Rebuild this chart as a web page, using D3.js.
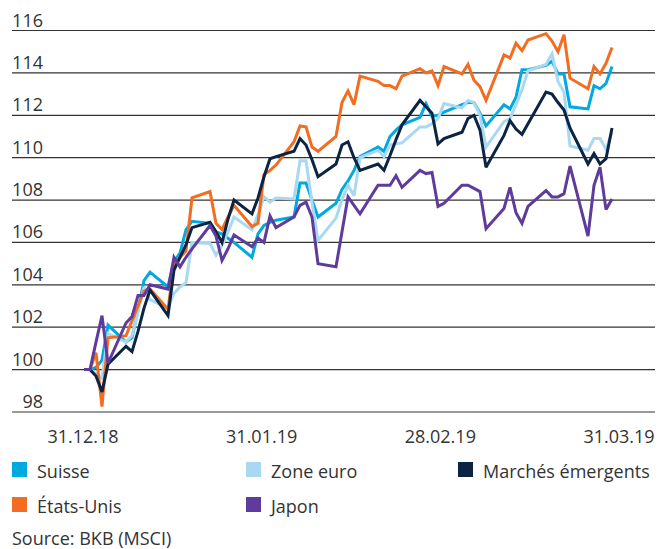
<!DOCTYPE html>
<html><head><meta charset="utf-8">
<script src="https://cdn.jsdelivr.net/npm/d3@7"></script>
<style>
body{margin:0;background:#fff;}
text{font-family:"Open Sans",sans-serif;fill:#333;}
</style>
</head><body>
<svg id="chart" width="668" height="549"></svg>
<script>
const dates = [
"2018-12-31","2019-01-01","2019-01-02","2019-01-03","2019-01-04",
"2019-01-07","2019-01-08","2019-01-09","2019-01-10","2019-01-11",
"2019-01-14","2019-01-15","2019-01-16","2019-01-17","2019-01-18",
"2019-01-21","2019-01-22","2019-01-23","2019-01-24","2019-01-25",
"2019-01-28","2019-01-29","2019-01-30","2019-01-31","2019-02-01",
"2019-02-04","2019-02-05","2019-02-06","2019-02-07","2019-02-08",
"2019-02-11","2019-02-12","2019-02-13","2019-02-14","2019-02-15",
"2019-02-18","2019-02-19","2019-02-20","2019-02-21","2019-02-22",
"2019-02-25","2019-02-26","2019-02-27","2019-02-28","2019-03-01",
"2019-03-04","2019-03-05","2019-03-06","2019-03-07","2019-03-08",
"2019-03-11","2019-03-12","2019-03-13","2019-03-14","2019-03-15",
"2019-03-18","2019-03-19","2019-03-20","2019-03-21","2019-03-22",
"2019-03-25","2019-03-26","2019-03-27","2019-03-28","2019-03-29"
];

const suisse = [
100.0, 100.0, 100.1, 100.45, 102.1,
101.3, 101.5, 102.8, 104.2, 104.6,
103.9, 105.1, 105.5, 106.6, 107.0,
106.9, 106.5, 106.4, 106.2, 106.0,
105.3, 106.4, 106.8, 106.95, 107.05,
107.2, 108.8, 108.8, 108.0, 107.2,
107.85, 108.5, 108.9, 109.4, 110.05,
110.5, 110.3, 111.0, 111.3, 111.55,
111.9, 112.55, 111.95, 112.0, 112.15,
112.5, 112.6, 112.6, 112.1, 111.5,
112.5, 112.3, 112.85, 114.15, 114.15,
114.35, 114.55, 113.95, 113.95, 112.4,
112.3, 113.4, 113.25, 113.5, 114.3
];
const zoneEuro = [
100.0, 100.0, 99.8, 99.6, 101.7,
101.3, 101.6, 102.7, 103.9, 103.3,
102.9, 103.6, 103.9, 104.1, 106.0,
105.95, 105.4, 105.85, 106.5, 107.2,
106.6, 107.3, 108.15, 107.9, 108.1,
108.05, 109.85, 109.85, 107.9, 106.1,
107.15, 108.0, 108.7, 108.2, 110.0,
110.35, 110.05, 110.6, 110.65, 110.7,
111.45, 111.45, 111.6, 111.85, 112.55,
112.35, 112.7, 112.6, 112.0, 110.5,
111.7, 111.85, 112.5, 113.2, 114.1,
114.4, 114.9, 113.6, 113.1, 110.55,
110.35, 110.9, 110.9, 110.4, 111.2
];
const emergents = [
100.0, 100.0, 99.7, 98.95, 100.25,
101.1, 100.85, 101.8, 102.9, 103.75,
102.55, 104.7, 105.3, 105.9, 106.7,
106.95, 106.5, 106.0, 107.1, 108.0,
107.35, 108.1, 109.1, 109.95, 110.05,
110.3, 110.9, 110.6, 109.9, 109.1,
109.7, 110.6, 110.75, 110.0, 109.4,
109.7, 109.4, 110.1, 110.85, 111.55,
112.7, 112.4, 112.1, 110.65, 110.9,
111.2, 111.85, 112.0, 111.3, 109.55,
111.05, 111.75, 111.35, 111.1, 111.6,
113.1, 113.0, 112.6, 112.25, 111.4,
109.7, 110.2, 109.7, 109.95, 111.4
];
const etatsUnis = [
100.0, 100.0, 100.8, 98.25, 101.5,
101.6, 102.3, 103.0, 103.7, 103.8,
102.85, 105.0, 105.3, 105.6, 108.1,
108.4, 106.9, 106.6, 107.2, 107.75,
106.75, 106.9, 109.2, 109.4, 109.65,
110.75, 111.5, 111.45, 110.5, 110.3,
111.0, 112.6, 113.15, 112.5, 113.85,
113.6, 113.4, 113.4, 113.25, 113.85,
114.2, 114.0, 114.1, 113.4, 114.3,
113.95, 114.4, 113.65, 113.35, 112.7,
114.85, 114.7, 115.4, 115.05, 115.55,
115.85, 115.5, 115.0, 115.8, 113.75,
113.25, 114.3, 113.95, 114.45, 115.2
];
const japon = [
100.0, 100.0, 101.3, 102.55, 100.3,
102.2, 102.5, 103.5, 103.5, 104.0,
103.8, 105.3, 104.85, 105.3, 105.7,
106.8, 106.3, 105.15, 105.7, 106.35,
105.8, 106.2, 106.0, 107.25, 106.7,
107.2, 107.75, 107.9, 107.2, 105.0,
104.85, 106.5, 108.15, 107.75, 107.35,
108.7, 108.7, 108.7, 109.15, 108.6,
109.4, 109.25, 109.3, 107.7, 107.85,
108.7, 108.7, 108.55, 108.4, 106.65,
107.6, 108.6, 107.4, 106.9, 107.7,
108.45, 108.15, 108.15, 108.3, 109.6,
106.3, 108.7, 109.55, 107.55, 108.05
];

const yTicks = [98, 100, 102, 104, 106, 108, 110, 112, 114, 116];
const xTickLabels = ["31.12.18", "31.01.19", "28.02.19", "31.03.19"];

const seriesNames = ["Suisse", "Zone euro", "Marchés émergents", "États-Unis", "Japon"];
const seriesColors = ["#00a9e0", "#a8d8f2", "#0b2443", "#f26d22", "#5e3b9c"];
const seriesValues = [suisse, zoneEuro, emergents, etatsUnis, japon];
const drawOrder = [0, 1, 3, 2, 4];

const svg = d3.select("#chart");
const parse = d3.utcParse("%Y-%m-%d");
const xDates = dates.map(parse);

const x = d3.scaleUtc().domain([xDates[0], xDates[xDates.length - 1]]).range([84, 612]);
const y = d3.scaleLinear().domain([98, 116]).range([412, 30.5]);

// grid lines
svg.append("g").selectAll("line").data(yTicks).join("line")
  .attr("x1", 12).attr("x2", 655)
  .attr("y1", d => y(d)).attr("y2", d => y(d))
  .attr("stroke", "#333").attr("stroke-width", 1.2);

// y labels
svg.append("g").selectAll("text").data(yTicks).join("text")
  .attr("x", 43).attr("y", d => y(d) - 4)
  .attr("text-anchor", "end")
  .attr("font-size", 18)
  .text(d => d);

// x labels
const xl = d3.scalePoint().domain(xTickLabels).range([83, 619]);
svg.append("g").selectAll("text").data(xTickLabels).join("text")
  .attr("x", d => xl(d)).attr("y", 443)
  .attr("text-anchor", "middle")
  .attr("font-size", 18)
  .text(d => d);

// lines
const line = d3.line().x((d, i) => x(xDates[i])).y(d => y(d)).curve(d3.curveLinear);
svg.append("g").selectAll("path").data(drawOrder).join("path")
  .attr("d", k => line(seriesValues[k]))
  .attr("fill", "none")
  .attr("stroke", k => seriesColors[k])
  .attr("stroke-width", 3)
  .attr("stroke-linejoin", "miter")
  .attr("stroke-miterlimit", 3);

// legend
const legendPos = [[12, 462], [246, 462], [458, 462], [12, 497], [246, 497]];
const lg = svg.append("g").selectAll("g").data(seriesNames).join("g")
  .attr("transform", (d, i) => `translate(${legendPos[i][0]},${legendPos[i][1]})`);
lg.append("rect").attr("width", 15).attr("height", 15).attr("fill", (d, i) => seriesColors[i]);
lg.append("text").attr("x", 25).attr("y", 15.5).attr("font-size", 18).text(d => d);

svg.append("text").attr("x", 12).attr("y", 545).attr("font-size", 18).text("Source: BKB (MSCI)");
</script>
</body></html>
